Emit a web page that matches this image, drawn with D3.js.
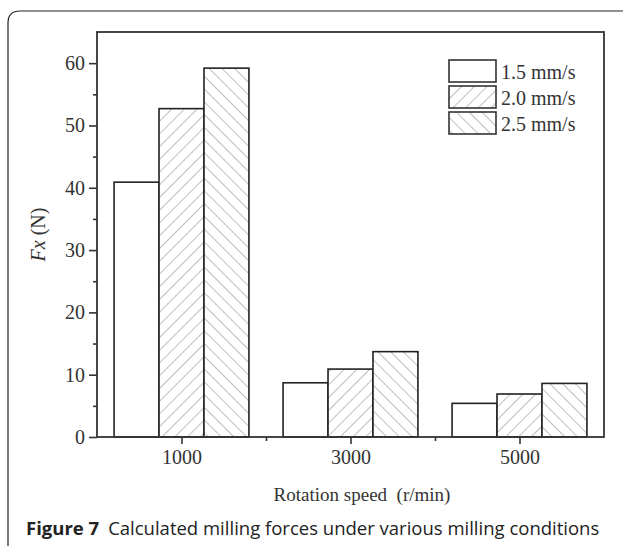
<!DOCTYPE html>
<html><head><meta charset="utf-8">
<script src="https://cdn.jsdelivr.net/npm/d3@7"></script>
<style>body{margin:0;background:#fff}svg{display:block}</style>
</head><body>
<script>
const categories = [1000, 3000, 5000];
const seriesNames = ["1.5 mm/s", "2.0 mm/s", "2.5 mm/s"];
const series15 = [40.9, 8.7, 5.4];
const series20 = [52.7, 10.9, 6.9];
const series25 = [59.2, 13.7, 8.6];
const yTicks = [0, 10, 20, 30, 40, 50, 60];
const yMinorTicks = [5, 15, 25, 35, 45, 55];
const xMinorTicks = [2000, 4000];
const seriesValues = [series15, series20, series25];

const W = 623, H = 546;
const svg = d3.select("body").append("svg").attr("width", W).attr("height", H);
const m = {l: 97, r: 604, t: 32, b: 437};

const defs = svg.append("defs");
function hatch(id, dir) {
  const p = defs.append("pattern").attr("id", id).attr("patternUnits", "userSpaceOnUse")
    .attr("width", 9).attr("height", 9)
    .attr("patternTransform", `rotate(${dir})`);
  p.append("rect").attr("width", 9).attr("height", 9).attr("fill", "#fff");
  p.append("line").attr("x1", 0).attr("y1", 0).attr("x2", 0).attr("y2", 9)
    .attr("stroke", "#888").attr("stroke-width", 1.1);
}
hatch("h20", 45);
hatch("h25", -45);
const fills = ["#fff", "url(#h20)", "url(#h25)"];

// outer frame
svg.append("path")
  .attr("d", `M8,${H} L8,23 Q8,11 20,11 L${W},11`)
  .attr("fill", "none").attr("stroke", "#222").attr("stroke-width", 1.2);

const x = d3.scaleLinear().domain([0, 6000]).range([m.l, m.r]);
const y = d3.scaleLinear().domain([0, 65]).range([m.b, m.t]);
const barW = x(532) - x(0);

const g = svg.append("g");
seriesValues.forEach((vals, si) => {
  g.selectAll(null).data(vals).enter().append("rect")
    .attr("x", (d, i) => x(categories[i]) - 1.5 * barW + si * barW)
    .attr("y", d => y(d))
    .attr("width", barW)
    .attr("height", d => y(0) - y(d))
    .attr("fill", fills[si])
    .attr("stroke", "#222").attr("stroke-width", 1.6);
});

// frame of plot
svg.append("rect").attr("x", m.l).attr("y", m.t).attr("width", m.r - m.l).attr("height", m.b - m.t)
  .attr("fill", "none").attr("stroke", "#333").attr("stroke-width", 1.8);

const serif = "'Liberation Serif', 'Times New Roman', serif";
// y axis
const yAxis = svg.append("g").attr("transform", `translate(${m.l},0)`)
  .call(d3.axisLeft(y).tickValues(yTicks).tickSize(8).tickPadding(4));
yAxis.select(".domain").remove();
yAxis.selectAll("line").attr("stroke", "#333").attr("stroke-width", 1.6);
yAxis.selectAll("text").attr("font-family", serif).attr("font-size", 20).attr("fill", "#333");
const yMin = svg.append("g").attr("transform", `translate(${m.l},0)`)
  .call(d3.axisLeft(y).tickValues(yMinorTicks).tickSize(4).tickFormat(""));
yMin.select(".domain").remove();
yMin.selectAll("line").attr("stroke", "#333").attr("stroke-width", 1.6);

// x axis
const xAxis = svg.append("g").attr("transform", `translate(0,${m.b})`)
  .call(d3.axisBottom(x).tickValues(categories).tickSize(7).tickPadding(6).tickFormat(d3.format("d")));
xAxis.select(".domain").remove();
xAxis.selectAll("line").attr("stroke", "#333").attr("stroke-width", 1.6);
xAxis.selectAll("text").attr("font-family", serif).attr("font-size", 20).attr("fill", "#333");
const xMin = svg.append("g").attr("transform", `translate(0,${m.b})`)
  .call(d3.axisBottom(x).tickValues(xMinorTicks).tickSize(4).tickFormat(""));
xMin.select(".domain").remove();
xMin.selectAll("line").attr("stroke", "#333").attr("stroke-width", 1.6);

// axis titles
const yt = svg.append("text").attr("transform", `translate(45,${(m.t + m.b) / 2}) rotate(-90)`)
  .attr("text-anchor", "middle").attr("font-family", serif).attr("font-size", 20).attr("fill", "#333");
yt.append("tspan").attr("font-style", "italic").text("Fx");
yt.append("tspan").text(" (N)");
svg.append("text").attr("x", 362).attr("y", 501).attr("text-anchor", "middle")
  .attr("font-family", serif).attr("font-size", 19).attr("fill", "#333").attr("xml:space", "preserve")
  .text("Rotation speed  (r/min)");

// legend
const lg = svg.append("g");
seriesNames.forEach((n, i) => {
  lg.append("rect").attr("x", 449).attr("y", 60 + i * 26).attr("width", 47).attr("height", 22)
    .attr("fill", fills[i]).attr("stroke", "#333").attr("stroke-width", 1.6);
  lg.append("text").attr("x", 501).attr("y", 79 + i * 26).attr("font-family", serif)
    .attr("font-size", 20).attr("fill", "#333").text(n);
});

// caption
const cap = svg.append("text").attr("x", 26).attr("y", 535).attr("font-family", "'Open Sans', sans-serif")
  .attr("font-size", 18.5).attr("fill", "#222");
cap.append("tspan").attr("font-weight", "bold").text("Figure 7");
cap.append("tspan").attr("dx", 9).text("Calculated milling forces under various milling conditions");
</script>
</body></html>
